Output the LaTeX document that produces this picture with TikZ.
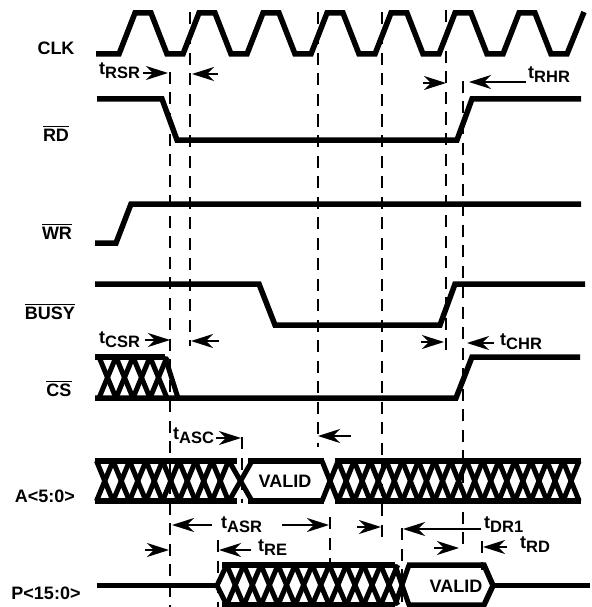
\documentclass[tikz,border=0pt]{standalone}
\usepackage{fontspec}
\setmainfont{Liberation Sans}
\usetikzlibrary{arrows.meta}
\tikzset{
  sig/.style={line width=5.5pt,miter limit=10,line join=miter},
  hatchline/.style={line width=5pt,line cap=butt},
  guide/.style={line width=2.3pt,dash pattern=on 12pt off 8.5pt},
  dimarrow/.style={line width=1.6pt,-{Stealth[length=22pt,width=14pt,inset=7pt]}},
  lab/.style={inner sep=0pt,font=\fontsize{18}{18}\bfseries\selectfont,text=black}
}
\newcommand\tsub[1]{t\raisebox{-4pt}{\fontsize{16.5}{16.5}\bfseries\selectfont #1}}
\newcommand\ovl[1]{\leavevmode\vbox{\hrule height 1pt \kern 1.6pt \hbox{#1}}}
\newcommand\dimarr[4]{\coordinate (#1a) at (#2,#3); \coordinate (#1b) at (#4,#3); \draw[dimarrow] (#1a) -- (#1b);}
\begin{document}
\begin{tikzpicture}[x=1pt,y=-1pt]
\useasboundingbox (0,0) rectangle (591,607);
\fill[white] (0,0) rectangle (591,607);
% guides
\foreach \gx/\ya/\yb in {170/72/607,190/12/346,318/12/447,382/12/537,446/10/355,463/81/549,242/437/503,218/540/607,330/517/566,402/528/607,482/541/570}
  \draw[guide] (\gx,\ya) -- (\gx,\yb);
% CLK
\draw[sig] (96,54) -- (119,54)
  \foreach \k in {0,...,6} { -- ({135+64*\k},13) -- ({151+64*\k},13) -- ({167+64*\k},54) -- ({183+64*\k},54) }
  -- (567,54) -- (584,12);
% RD, WR, BUSY
\draw[sig] (97,99) -- (162,99) -- (177,140) -- (457,140) -- (472,99) -- (581,99);
\draw[sig] (95,243) -- (116,243) -- (131,204) -- (581,204);
\draw[sig] (95,284) -- (259,284) -- (275,325) -- (440,325) -- (455,284) -- (585,284);
% CS
\draw[sig] (95,357) -- (165,357);
\draw[sig] (95,398) -- (456,398) -- (472,357) -- (580,357);
\foreach \k in {0,...,3} {
  \draw[hatchline] ({99+17*\k},357) -- ({116+17*\k},398);
  \draw[hatchline] ({99+17*\k},398) -- ({116+17*\k},357);
}
\draw[hatchline] (165,357) -- (178,398);
% A
\draw[sig] (95,461) -- (237,461);
\draw[sig] (95,501) -- (237,501);
\foreach \k in {0,...,7} {
  \draw[hatchline] ({96.5+16.5*\k},461) -- ({113+16.5*\k},501);
  \draw[hatchline] ({96.5+16.5*\k},501) -- ({113+16.5*\k},461);
}
\draw[hatchline] (229,461) -- (252,501);
\draw[hatchline] (229,501) -- (252,461);
\draw[sig] (248,461) -- (324,461);
\draw[sig] (248,501) -- (324,501);
\draw[sig] (335,461) -- (581,461);
\draw[sig] (335,501) -- (581,501);
\foreach \k in {0,...,15} {
  \draw[hatchline] ({322+16.07*\k},461) -- ({338.07+16.07*\k},501);
  \draw[hatchline] ({322+16.07*\k},501) -- ({338.07+16.07*\k},461);
}
% P
\draw[sig] (97,585.5) -- (218,585.5);
\draw[hatchline] (226.7,565) -- (217,585.5) -- (226.7,605);
\draw[sig] (222,565) -- (395,565);
\draw[sig] (222,605) -- (395,605);
\foreach \k in {0,...,9} {
  \draw[hatchline] ({226.7+17.1*\k},565) -- ({243.8+17.1*\k},605);
  \draw[hatchline] ({226.7+17.1*\k},605) -- ({243.8+17.1*\k},565);
}
\draw[hatchline] (395,565) -- (409,605);
\draw[hatchline] (395,605) -- (409,565);
\draw[sig] (407,565) -- (484,565) -- (493,585.5) -- (484,605) -- (407,605);
\draw[sig] (493,585.5) -- (590,585.5);
% signal names
\node[lab,anchor=base] (clk) at (56,55) {CLK};
\node[lab,anchor=base] (rd) at (56,141) {\ovl{RD}};
\node[lab,anchor=base] (wr) at (57,239) {\ovl{WR}};
\node[lab,anchor=base] (busy) at (50,319) {\ovl{BUSY}};
\node[lab,anchor=base] (cs) at (59,396) {\ovl{CS}};
\node[lab,anchor=base] (addr) at (45,502) {A<5:0>};
\node[lab,anchor=base] (data) at (46,599) {P<15:0>};
\node[lab,anchor=base] (va) at (285,487) {VALID};
\node[lab,anchor=base] (vp) at (456,592) {VALID};
% timing names
\node[lab,anchor=base west] (trsr) at (99,75) {\tsub{RSR}};
\node[lab,anchor=base west] (trhr) at (528,79) {\tsub{RHR}};
\node[lab,anchor=base west] (tcsr) at (99,343) {\tsub{CSR}};
\node[lab,anchor=base west] (tchr) at (500,345) {\tsub{CHR}};
\node[lab,anchor=base west] (tasc) at (173,439) {\tsub{ASC}};
\node[lab,anchor=base west] (tasr) at (221,528) {\tsub{ASR}};
\node[lab,anchor=base west] (tre) at (258,551) {\tsub{RE}};
\node[lab,anchor=base west] (tdr) at (484,528) {\tsub{DR1}};
\node[lab,anchor=base west] (trd) at (520,548) {\tsub{RD}};
% arrows
\dimarr{a1}{143}{73}{168}
\dimarr{a2}{218}{74}{192}
\dimarr{a3}{423}{83}{446}
\dimarr{a4}{526}{82}{469}
\dimarr{a5}{145}{340}{170}
\dimarr{a6}{219}{341}{191}
\dimarr{a7}{421}{342}{444}
\dimarr{a8}{494}{343}{467}
\dimarr{a9}{216}{438}{241}
\dimarr{a10}{351}{436}{318}
\dimarr{a11}{212}{525}{172}
\dimarr{a12}{282}{525}{329}
\dimarr{a13}{145}{550}{169}
\dimarr{a14}{251}{550}{219}
\dimarr{a15}{357}{527}{381}
\dimarr{a16}{481}{529}{403}
\dimarr{a17}{434}{548}{459}
\dimarr{a18}{507}{547}{483}
\end{tikzpicture}
\end{document}
